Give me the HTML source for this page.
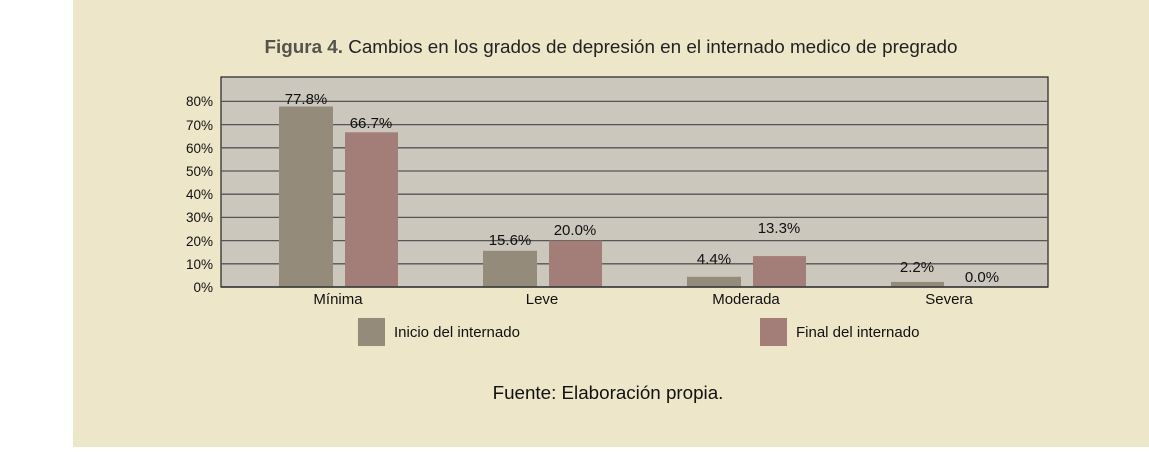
<!DOCTYPE html>
<html><head><meta charset="utf-8"><style>
body{margin:0;width:1149px;height:447px;background:#fff;overflow:hidden;font-family:"Liberation Sans",Arial,sans-serif}
</style></head><body>
<svg width="1149" height="447" xmlns="http://www.w3.org/2000/svg" font-family="Liberation Sans, Arial, sans-serif">
<rect x="73" y="0" width="1076" height="447" fill="#ede6c8"/>
<text x="611" y="53" font-size="18.8" text-anchor="middle" fill="#222" textLength="693" lengthAdjust="spacingAndGlyphs"><tspan font-weight="bold" fill="#55534c">Figura 4.</tspan> Cambios en los grados de depresión en el internado medico de pregrado</text>
<rect x="221" y="77" width="827" height="210" fill="#cbc7bd" stroke="#222" stroke-width="1.2"/>
<g stroke="#555" stroke-width="1.3">
<line x1="221" x2="1048" y1="263.8" y2="263.8"/><line x1="221" x2="1048" y1="240.6" y2="240.6"/>
<line x1="221" x2="1048" y1="217.4" y2="217.4"/><line x1="221" x2="1048" y1="194.2" y2="194.2"/>
<line x1="221" x2="1048" y1="171" y2="171"/><line x1="221" x2="1048" y1="147.8" y2="147.8"/>
<line x1="221" x2="1048" y1="124.6" y2="124.6"/><line x1="221" x2="1048" y1="101.4" y2="101.4"/>
</g>
<g font-size="13.5" fill="#111" text-anchor="end">
<text x="213" y="292">0%</text><text x="213" y="269">10%</text><text x="213" y="246">20%</text>
<text x="213" y="222">30%</text><text x="213" y="199">40%</text><text x="213" y="176">50%</text>
<text x="213" y="153">60%</text><text x="213" y="130">70%</text><text x="213" y="106">80%</text>
</g>
<g fill="#958b7a">
<rect x="279" y="106.5" width="54" height="180.5"/><rect x="483" y="250.8" width="54" height="36.2"/>
<rect x="687" y="276.8" width="54" height="10.2"/><rect x="891" y="281.9" width="53" height="5.1"/>
</g>
<g fill="#a37e78">
<rect x="345" y="132.3" width="53" height="154.7"/><rect x="549" y="240.6" width="53" height="46.4"/>
<rect x="753" y="256.1" width="53" height="30.9"/>
</g>
<line x1="221" x2="1048" y1="287" y2="287" stroke="#333" stroke-width="1.5"/>
<g font-size="15" fill="#111" text-anchor="middle">
<text x="306" y="104">77.8%</text><text x="371" y="128">66.7%</text>
<text x="510" y="245">15.6%</text><text x="575" y="235">20.0%</text>
<text x="714" y="264">4.4%</text><text x="779" y="233">13.3%</text>
<text x="917" y="272">2.2%</text><text x="982" y="282">0.0%</text>
<text x="338" y="304">Mínima</text><text x="542" y="304">Leve</text>
<text x="746" y="304">Moderada</text><text x="949" y="304">Severa</text>
</g>
<rect x="358" y="318" width="27" height="28" fill="#958b7a"/>
<text x="394" y="337" font-size="15" fill="#111">Inicio del internado</text>
<rect x="760" y="318" width="27" height="28" fill="#a37e78"/>
<text x="796" y="337" font-size="15" fill="#111">Final del internado</text>
<text x="608" y="399" font-size="18.8" text-anchor="middle" fill="#111">Fuente: Elaboración propia.</text>
</svg>
</body></html>
